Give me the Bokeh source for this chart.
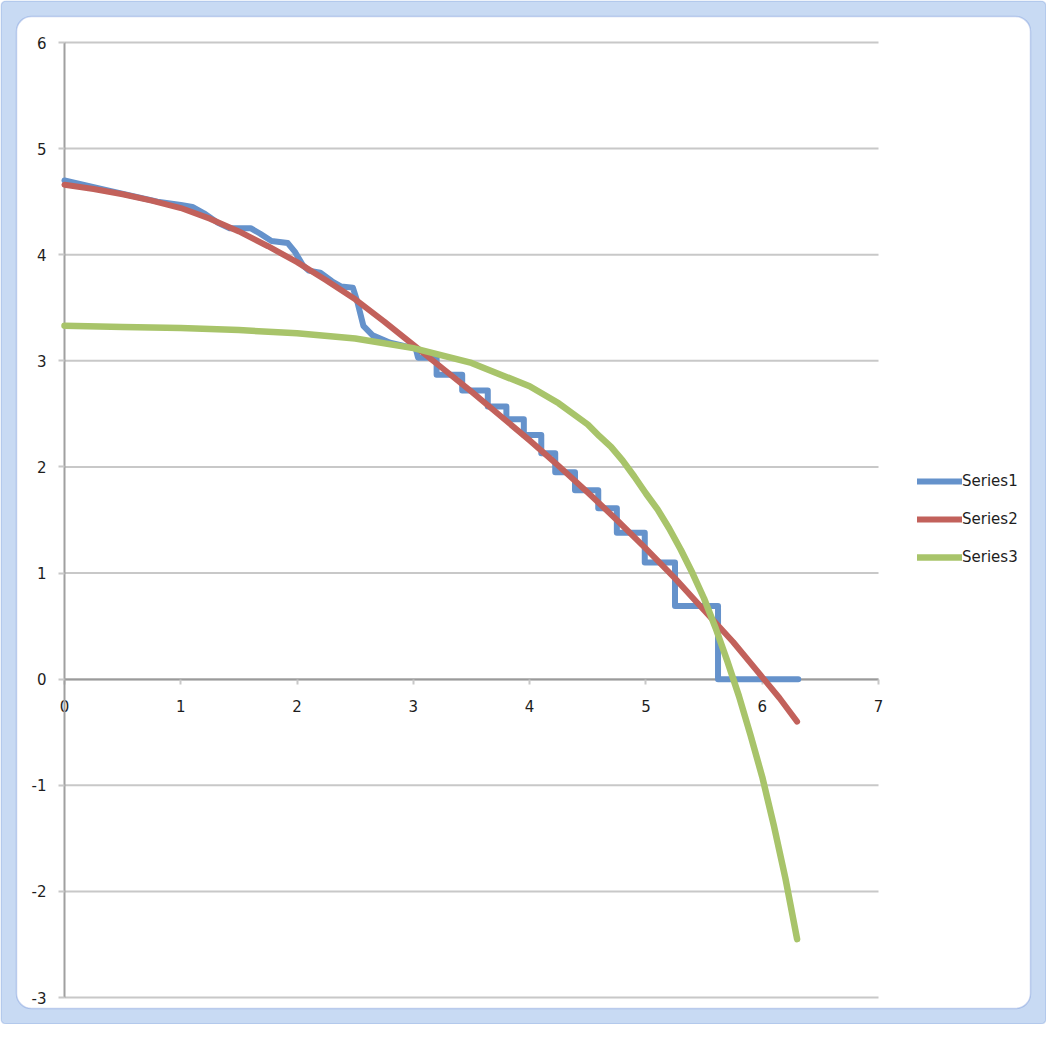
from bokeh.plotting import figure
from bokeh.models import Range1d, Legend, FixedTicker, BoxAnnotation, PrintfTickFormatter
from bokeh.embed import file_html
from bokeh.resources import INLINE

# ---- data ----
s1_x = [0.00, 0.40, 0.80, 1.00, 1.10, 1.20, 1.32, 1.42, 1.60, 1.68, 1.78, 1.92, 1.98, 2.05,
        2.10, 2.20, 2.30, 2.38, 2.48, 2.52, 2.57, 2.65, 2.80, 2.92, 3.02,
        3.04, 3.20, 3.20, 3.42, 3.42, 3.64, 3.64, 3.80, 3.80, 3.95, 3.95, 4.10, 4.10, 4.22,
        4.22, 4.39, 4.39, 4.59, 4.59, 4.75, 4.75, 4.99, 4.99, 5.25, 5.25, 5.62, 5.62, 6.31]
s1_y = [4.70, 4.60, 4.50, 4.47, 4.45, 4.39, 4.30, 4.25, 4.25, 4.20, 4.13, 4.11, 4.03, 3.90,
        3.85, 3.83, 3.75, 3.70, 3.69, 3.55, 3.33, 3.24, 3.17, 3.14, 3.12,
        3.03, 3.03, 2.87, 2.87, 2.72, 2.72, 2.57, 2.57, 2.45, 2.45, 2.30, 2.30, 2.13, 2.13,
        1.95, 1.95, 1.78, 1.78, 1.61, 1.61, 1.38, 1.38, 1.10, 1.10, 0.69, 0.69, 0.00, 0.00]

s2_x = [0.00, 0.25, 0.50, 0.75, 1.00, 1.25, 1.50, 1.75, 2.00, 2.25, 2.50, 2.75, 3.00, 3.25,
        3.50, 3.75, 4.00, 4.25, 4.50, 4.75, 5.00, 5.25, 5.50, 5.75, 6.00, 6.15, 6.30]
s2_y = [4.66, 4.62, 4.57, 4.51, 4.44, 4.34, 4.22, 4.08, 3.93, 3.76, 3.58, 3.37, 3.15, 2.93,
        2.71, 2.48, 2.25, 2.01, 1.76, 1.50, 1.23, 0.95, 0.65, 0.35, 0.02, -0.18, -0.40]

s3_x = [0.00, 0.50, 1.00, 1.50, 2.00, 2.50, 3.00, 3.50, 4.00, 4.25, 4.50, 4.60, 4.70, 4.80,
        4.90, 5.00, 5.10, 5.20, 5.30, 5.40, 5.50, 5.60, 5.70, 5.80, 5.90, 6.00, 6.10, 6.20, 6.30]
s3_y = [3.33, 3.32, 3.31, 3.29, 3.26, 3.21, 3.12, 2.98, 2.76, 2.60, 2.40, 2.29, 2.19, 2.06,
        1.91, 1.75, 1.60, 1.42, 1.22, 1.00, 0.76, 0.48, 0.17, -0.16, -0.53, -0.92, -1.38, -1.88, -2.45]

series_names = ["Series1", "Series2", "Series3"]
series_colors = ["#6592cb", "#c2615b", "#a8c46a"]
x_ticks = [0, 1, 2, 3, 4, 5, 6, 7]
y_ticks = [-3, -2, -1, 0, 1, 2, 3, 4, 5, 6]

FONT = "DejaVu Sans"
TEXT_COLOR = "#1e1e1e"
W, H = 1046, 1024
# pixel placement of the plotting area inside the figure
PX0, PX1 = 64, 878        # x=0 and x=7
PY_TOP, PY_BOT = 42, 997  # y=6 and y=-3

xmin, xmax = x_ticks[0], x_ticks[-1]
ymin, ymax = y_ticks[0], y_ticks[-1]
sx = (PX1 - PX0) / (xmax - xmin)
sy = (PY_BOT - PY_TOP) / (ymax - ymin)


def px2x(px):
    return xmin + (px - PX0) / sx


def py2y(py):
    return ymax - (py - PY_TOP) / sy


p = figure(width=W, height=H, x_range=Range1d(px2x(0), px2x(W)), y_range=Range1d(py2y(H), py2y(0)),
           output_backend="svg", toolbar_location=None,
           min_border=0, min_border_left=0, min_border_right=0,
           min_border_top=0, min_border_bottom=0)
p.outline_line_color = None
p.background_fill_color = "white"
p.border_fill_color = "white"
p.xgrid.visible = False
p.ygrid.visible = False

# chart container frame (light blue band + rounded white panel)
outer = BoxAnnotation(left=px2x(0.5), right=px2x(W - 0.5), top=py2y(0.5), bottom=py2y(H - 0.5),
                      fill_color="#c8daf3", fill_alpha=1, line_color="#7094d8", line_width=1.5,
                      border_radius=5, level="image")
inner = BoxAnnotation(left=px2x(16), right=px2x(W - 16), top=py2y(16), bottom=py2y(H - 16),
                      fill_color="white", fill_alpha=1, line_color="#5a7fd2", line_width=1.5,
                      border_radius=15, level="image")
p.add_layout(outer)
p.add_layout(inner)

# horizontal gridlines over the plotting area
n = len(y_ticks)
p.segment(x0=[xmin] * n, y0=y_ticks, x1=[xmax] * n, y1=y_ticks,
          line_color="#c8c8c8", line_width=2, level="underlay")

fmt = PrintfTickFormatter(format="%d")

# axes crossing at zero
xa = p.xaxis[0]
xa.ticker = FixedTicker(ticks=x_ticks)
xa.formatter = fmt
xa.fixed_location = 0
xa.bounds = (xmin, xmax)
xa.level = "underlay"
xa.axis_line_color = "#9a9a9a"
xa.axis_line_width = 2
xa.major_tick_line_color = "#c8c8c8"
xa.major_tick_line_width = 2
xa.major_tick_out = 5
xa.major_tick_in = 0
xa.minor_tick_line_color = None
xa.major_label_standoff = 16
xa.major_label_text_font = FONT
xa.major_label_text_font_size = "15px"
xa.major_label_text_color = TEXT_COLOR

ya = p.yaxis[0]
ya.ticker = FixedTicker(ticks=y_ticks)
ya.formatter = PrintfTickFormatter(format="%d")
ya.fixed_location = 0
ya.bounds = (ymin, ymax)
ya.level = "underlay"
ya.axis_line_color = "#a0a0a0"
ya.axis_line_width = 2
ya.major_tick_line_color = "#c8c8c8"
ya.major_tick_line_width = 2
ya.major_tick_out = 6
ya.major_tick_in = 0
ya.minor_tick_line_color = None
ya.major_label_standoff = 12
ya.major_label_text_font = FONT
ya.major_label_text_font_size = "15px"
ya.major_label_text_color = TEXT_COLOR

r1 = p.line(s1_x, s1_y, line_color=series_colors[0], line_width=6, line_join="round", line_cap="round")
r2 = p.line(s2_x, s2_y, line_color=series_colors[1], line_width=6, line_join="round", line_cap="round")
r3 = p.line(s3_x, s3_y, line_color=series_colors[2], line_width=6.5, line_join="round", line_cap="round")

legend = Legend(items=[(series_names[0], [r1]), (series_names[1], [r2]), (series_names[2], [r3])],
                location=(917, 457), orientation="vertical")
legend.label_text_font = FONT
legend.label_text_font_size = "15px"
legend.label_text_color = TEXT_COLOR
legend.glyph_width = 45
legend.glyph_height = 20
legend.label_height = 20
legend.spacing = 18
legend.padding = 0
legend.margin = 0
legend.label_standoff = 0
legend.border_line_color = None
legend.background_fill_alpha = 0
p.add_layout(legend)

open("out.html", "w").write(file_html(p, INLINE))
